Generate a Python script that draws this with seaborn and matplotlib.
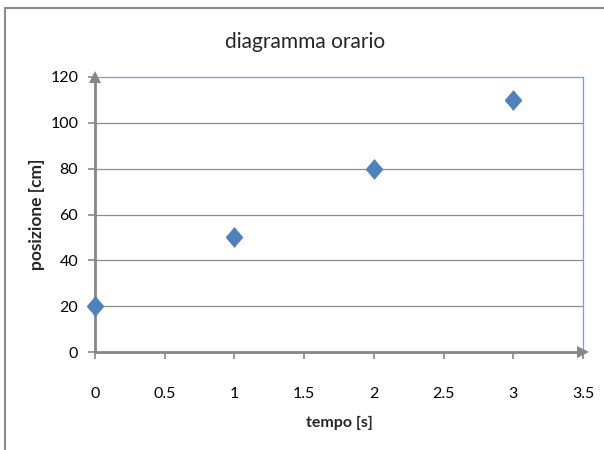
import matplotlib
matplotlib.use("Agg")
import matplotlib.pyplot as plt
import seaborn as sns
import pandas as pd
from matplotlib.lines import Line2D

tempo = [0, 1, 2, 3]
posizione = [20, 50, 80, 110]
x_ticks = [0, 0.5, 1, 1.5, 2, 2.5, 3, 3.5]
x_tick_labels = ["0", "0.5", "1", "1.5", "2", "2.5", "3", "3.5"]
y_ticks = [0, 20, 40, 60, 80, 100, 120]
title = "diagramma orario"
xlabel = "tempo [s]"
ylabel = "posizione [cm]"

sns.set_style("white")
plt.rcParams['font.family'] = ['Lato', 'DejaVu Sans']

W, H = 604, 450
fig = plt.figure(figsize=(W / 100, H / 100), dpi=100)
left, right, top, bottom = 95, 583, 77, 352
ax = fig.add_axes([left / W, 1 - bottom / H, (right - left) / W, (bottom - top) / H])

diamond = [(0, 1), (0.85, 0), (0, -1), (-0.85, 0), (0, 1)]
df = pd.DataFrame({"tempo": tempo, "posizione": posizione})
sns.scatterplot(data=df, x="tempo", y="posizione", marker=diamond, s=200,
                color="#4F81BD", edgecolor="#4A7EBB", linewidth=0.5,
                ax=ax, zorder=5, clip_on=False)

ax.set_xlim(0, 3.5)
ax.set_ylim(0, 120)
ax.set_xticks(x_ticks)
ax.set_xticklabels(x_tick_labels)
ax.set_yticks(y_ticks)

axis_col = "#868686"
for y in y_ticks[1:-1]:
    ax.axhline(y, color="#8c8c8c", lw=0.9, zorder=1)

for s in ["top", "right"]:
    ax.spines[s].set_color("#7f9fcb")
    ax.spines[s].set_linewidth(0.9)
for s in ["left", "bottom"]:
    ax.spines[s].set_color(axis_col)
    ax.spines[s].set_linewidth(2.0)
    ax.spines[s].set_zorder(3)

ax.tick_params(axis="both", which="both", direction="out", length=5, width=1.2,
               color=axis_col, labelsize=11.5, labelcolor="black")
ax.tick_params(axis="x", pad=20, bottom=True)
ax.tick_params(axis="y", pad=7, left=True)

# arrow heads
ax.plot([0], [1], marker="^", markersize=8, color=axis_col, transform=ax.transAxes,
        clip_on=False, zorder=6, markeredgewidth=0)
ax.plot([1], [0], marker=">", markersize=8, color=axis_col, transform=ax.transAxes,
        clip_on=False, zorder=6, markeredgewidth=0)

ax.set_xlabel(xlabel, fontsize=11.5, fontweight="bold", labelpad=11)
ax.set_ylabel(ylabel, fontsize=12.5, fontweight="bold", labelpad=4)
fig.text(305 / W, 1 - 42 / H, title, fontsize=15,
         ha="center", va="center")

# chart-area border (cropped: top and left only visible)
fig.add_artist(Line2D([5 / W, 5 / W], [0, 1 - 8 / H], color="#8a8a8a", lw=1.5))
fig.add_artist(Line2D([5 / W, 1], [1 - 8 / H, 1 - 8 / H], color="#8a8a8a", lw=1.5))

fig.savefig("out.png", dpi=100)
